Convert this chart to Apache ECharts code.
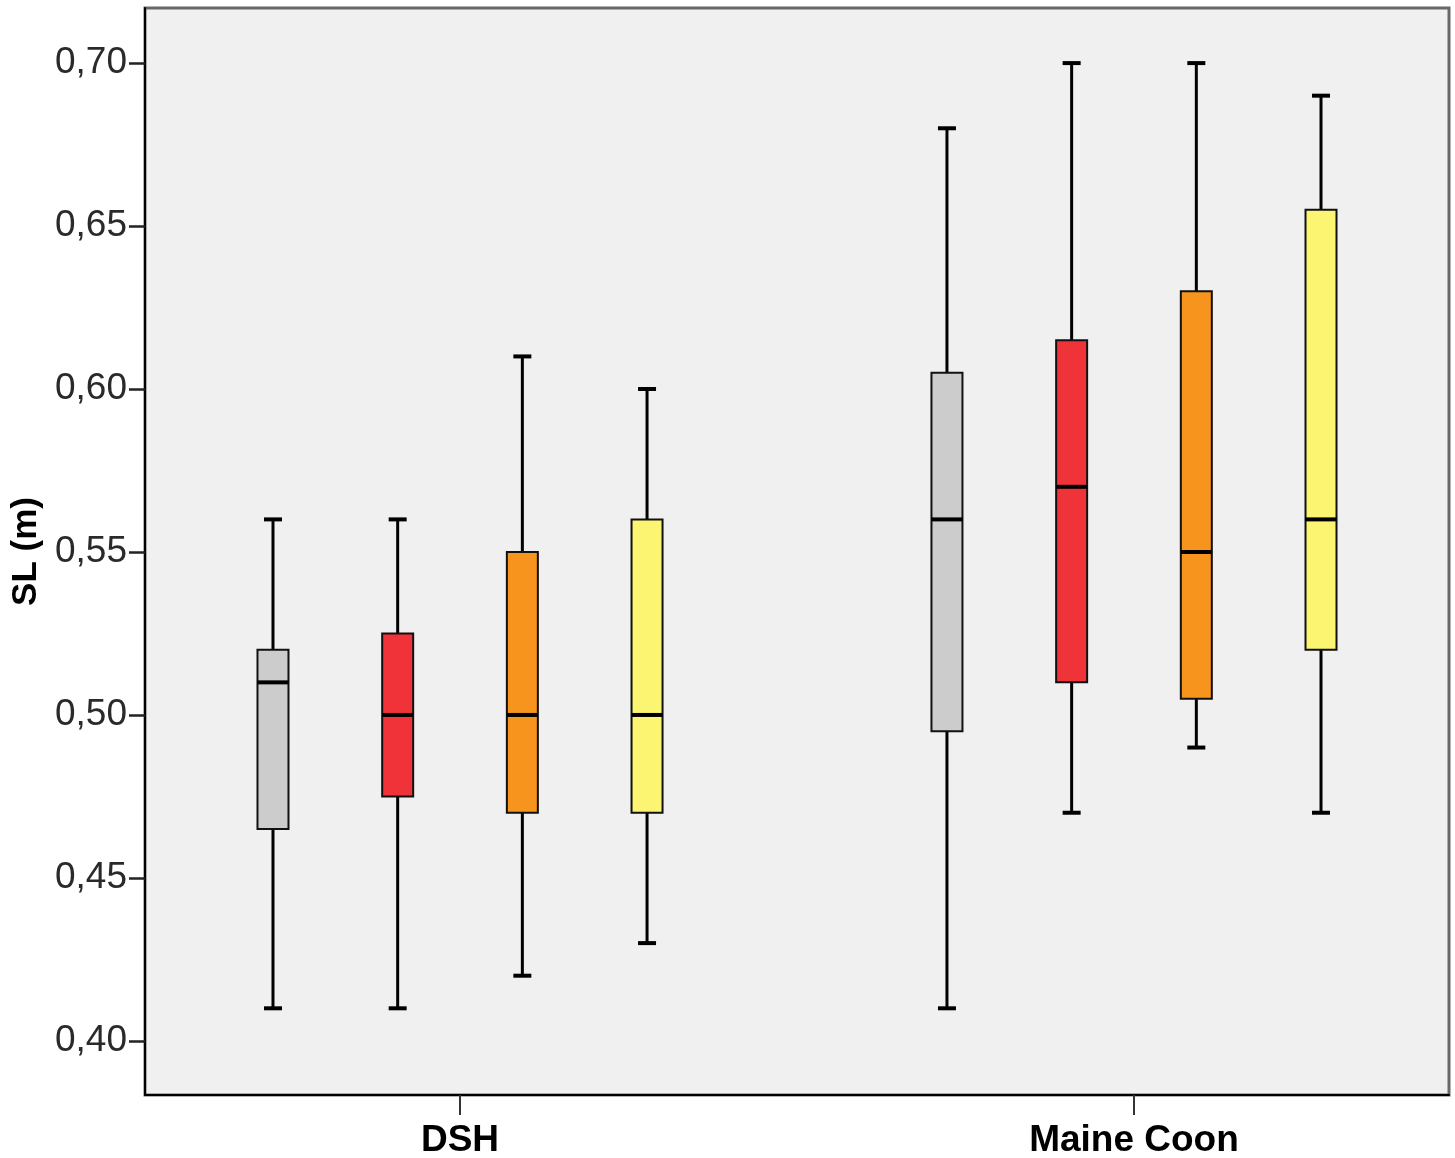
<!DOCTYPE html>
<html>
<head>
<meta charset="utf-8">
<script src="https://cdn.jsdelivr.net/npm/echarts@6/dist/echarts.min.js"></script>
<style>
  html, body { margin: 0; padding: 0; background: #ffffff; }
  #chart { width: 1455px; height: 1158px; }
</style>
</head>
<body>
<div id="chart"></div>
<script>
// ---- data (min, Q1, median, Q3, max) per group ----
const categories = ['DSH', 'Maine Coon'];
const greyBoxes   = [[0.41, 0.465, 0.51, 0.52, 0.56], [0.41, 0.495, 0.56, 0.605, 0.68]];
const redBoxes    = [[0.41, 0.475, 0.50, 0.525, 0.56], [0.47, 0.51, 0.57, 0.615, 0.70]];
const orangeBoxes = [[0.42, 0.47, 0.50, 0.55, 0.61], [0.49, 0.505, 0.55, 0.63, 0.70]];
const yellowBoxes = [[0.43, 0.47, 0.50, 0.56, 0.60], [0.47, 0.52, 0.56, 0.655, 0.69]];
const yTicks = [0.40, 0.45, 0.50, 0.55, 0.60, 0.65, 0.70];

const seriesDefs = [
  { name: 'grey',   data: greyBoxes,   color: '#cccccc' },
  { name: 'red',    data: redBoxes,    color: '#ef3339' },
  { name: 'orange', data: orangeBoxes, color: '#f7941e' },
  { name: 'yellow', data: yellowBoxes, color: '#fbf571' }
];
const OFFSETS = [-0.2775, -0.0925, 0.0925, 0.2775];
const BOX_W = 31, CAP_W = 18;

function renderItem(params, api) {
  const x = api.value(0) + OFFSETS[params.seriesIndex];
  const cx = api.coord([x, 0.5])[0];
  const yMin = api.coord([x, api.value(1)])[1];
  const yQ1 = api.coord([x, api.value(2)])[1];
  const yMed = api.coord([x, api.value(3)])[1];
  const yQ3 = api.coord([x, api.value(4)])[1];
  const yMax = api.coord([x, api.value(5)])[1];
  const color = seriesDefs[params.seriesIndex].color;
  const lw = { stroke: '#000', lineWidth: 3 };
  return {
    type: 'group',
    children: [
      { type: 'line', shape: { x1: cx, y1: yMin, x2: cx, y2: yQ1 }, style: lw },
      { type: 'line', shape: { x1: cx, y1: yQ3, x2: cx, y2: yMax }, style: lw },
      { type: 'line', shape: { x1: cx - CAP_W / 2, y1: yMin, x2: cx + CAP_W / 2, y2: yMin }, style: { stroke: '#000', lineWidth: 4 } },
      { type: 'line', shape: { x1: cx - CAP_W / 2, y1: yMax, x2: cx + CAP_W / 2, y2: yMax }, style: { stroke: '#000', lineWidth: 4 } },
      { type: 'rect', shape: { x: cx - BOX_W / 2, y: yQ3, width: BOX_W, height: yQ1 - yQ3 }, style: { fill: color, stroke: '#111', lineWidth: 2 } },
      { type: 'line', shape: { x1: cx - BOX_W / 2, y1: yMed, x2: cx + BOX_W / 2, y2: yMed }, style: { stroke: '#000', lineWidth: 4 } }
    ]
  };
}

const chart = echarts.init(document.getElementById('chart'), null, { renderer: 'canvas' });
chart.setOption({
  animation: false,
  backgroundColor: '#ffffff',
  grid: {
    left: 145, right: 6, top: 8, bottom: 63,
    outerBoundsMode: 'none',
    containLabel: false,
    show: true, backgroundColor: '#f0f0f0', borderColor: '#686868', borderWidth: 3
  },
  xAxis: {
    type: 'value',
    min: 0.5326, max: 2.4674,
    splitLine: { show: false },
    axisLine: { show: true, onZero: false, lineStyle: { color: '#000', width: 2 } },
    axisTick: { show: true, customValues: [1, 2], length: 20, lineStyle: { color: '#333', width: 2 } },
    axisLabel: {
      customValues: [1, 2],
      formatter: v => categories[Math.round(v) - 1],
      fontFamily: 'Liberation Sans, Arial, sans-serif',
      fontWeight: 'bold', fontSize: 37, color: '#000', margin: 27
    }
  },
  yAxis: {
    type: 'value',
    min: 0.3834, max: 0.7169,
    splitLine: { show: false },
    name: 'SL (m)',
    nameLocation: 'middle',
    nameRotate: 90,
    nameGap: 97,
    nameTextStyle: { fontFamily: 'Liberation Sans, Arial, sans-serif', fontWeight: 'bold', fontSize: 35, color: '#000' },
    axisLine: { show: true, onZero: false, lineStyle: { color: '#000', width: 2 } },
    axisTick: { show: true, customValues: yTicks, length: 16, lineStyle: { color: '#222', width: 2.5 } },
    axisLabel: {
      customValues: yTicks,
      formatter: v => v.toFixed(2).replace('.', ','),
      fontFamily: 'Liberation Sans, Arial, sans-serif',
      fontSize: 37, color: '#2a2a2a', margin: 18
    }
  },
  series: seriesDefs.map(s => ({
    type: 'custom',
    name: s.name,
    renderItem: renderItem,
    encode: { x: 0, y: [1, 2, 3, 4, 5] },
    data: s.data.map((d, i) => [i + 1].concat(d)),
    clip: false
  }))
});
</script>
</body>
</html>
